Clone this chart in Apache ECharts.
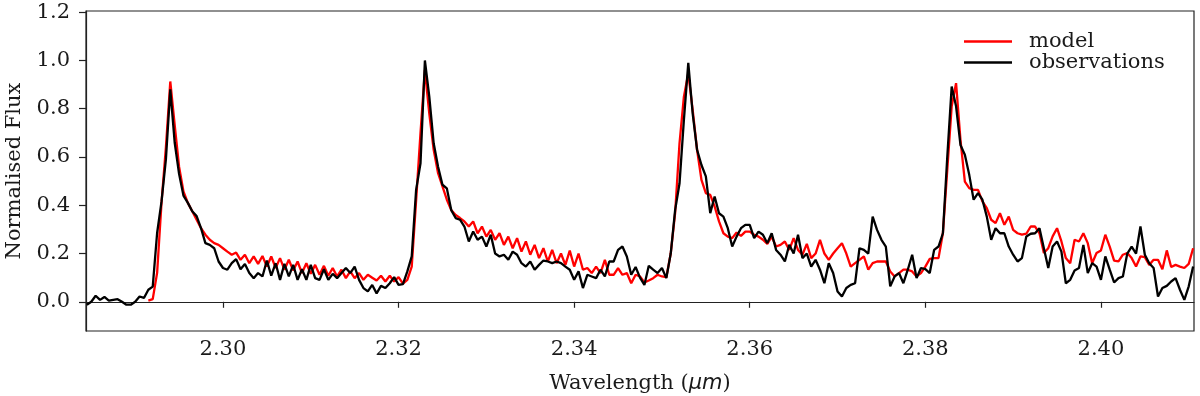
<!DOCTYPE html>
<html>
<head>
<meta charset="utf-8">
<script src="https://cdn.jsdelivr.net/npm/echarts@6/dist/echarts.min.js"></script>
<style>
html,body{margin:0;padding:0;background:#fff;}
#chart{width:1200px;height:396px;}
</style>
</head>
<body>
<div id="chart"></div>
<script>
// shared wavelength grid (micron)
const wavelength=[
2.2845,2.2850,2.2855,2.2860,2.2865,2.2870,2.2875,2.2880,2.2885,2.2890,
2.2895,2.2900,2.2905,2.2910,2.2915,2.2920,2.2925,2.2930,2.2935,2.2940,
2.2945,2.2950,2.2955,2.2960,2.2965,2.2970,2.2975,2.2980,2.2985,2.2990,
2.2995,2.3000,2.3005,2.3010,2.3015,2.3020,2.3025,2.3030,2.3035,2.3040,
2.3045,2.3050,2.3055,2.3060,2.3065,2.3070,2.3075,2.3080,2.3085,2.3090,
2.3095,2.3100,2.3105,2.3110,2.3115,2.3120,2.3125,2.3130,2.3135,2.3140,
2.3145,2.3150,2.3155,2.3160,2.3165,2.3170,2.3175,2.3180,2.3185,2.3190,
2.3195,2.3200,2.3205,2.3210,2.3215,2.3220,2.3225,2.3230,2.3235,2.3240,
2.3245,2.3250,2.3255,2.3260,2.3265,2.3270,2.3275,2.3280,2.3285,2.3290,
2.3295,2.3300,2.3305,2.3310,2.3315,2.3320,2.3325,2.3330,2.3335,2.3340,
2.3345,2.3350,2.3355,2.3360,2.3365,2.3370,2.3375,2.3380,2.3385,2.3390,
2.3395,2.3400,2.3405,2.3410,2.3415,2.3420,2.3425,2.3430,2.3435,2.3440,
2.3445,2.3450,2.3455,2.3460,2.3465,2.3470,2.3475,2.3480,2.3485,2.3490,
2.3495,2.3500,2.3505,2.3510,2.3515,2.3520,2.3525,2.3530,2.3535,2.3540,
2.3545,2.3550,2.3555,2.3560,2.3565,2.3570,2.3575,2.3580,2.3585,2.3590,
2.3595,2.3600,2.3605,2.3610,2.3615,2.3620,2.3625,2.3630,2.3635,2.3640,
2.3645,2.3650,2.3655,2.3660,2.3665,2.3670,2.3675,2.3680,2.3685,2.3690,
2.3695,2.3700,2.3705,2.3710,2.3715,2.3720,2.3725,2.3730,2.3735,2.3740,
2.3745,2.3750,2.3755,2.3760,2.3765,2.3770,2.3775,2.3780,2.3785,2.3790,
2.3795,2.3800,2.3805,2.3810,2.3815,2.3820,2.3825,2.3830,2.3835,2.3840,
2.3845,2.3850,2.3855,2.3860,2.3865,2.3870,2.3875,2.3880,2.3885,2.3890,
2.3895,2.3900,2.3905,2.3910,2.3915,2.3920,2.3925,2.3930,2.3935,2.3940,
2.3945,2.3950,2.3955,2.3960,2.3965,2.3970,2.3975,2.3980,2.3985,2.3990,
2.3995,2.4000,2.4005,2.4010,2.4015,2.4020,2.4025,2.4030,2.4035,2.4040,
2.4045,2.4050,2.4055,2.4060,2.4065,2.4070,2.4075,2.4080,2.4085,2.4090,
2.4095,2.4100,2.4105
];

// model flux (red), starts at 2.2915
const modelFlux=[
null,null,null,null,null,null,null,null,null,null,
null,null,null,null,0.005,0.011,0.12,0.41,0.64,0.913,
0.733,0.56,0.457,0.41,0.375,0.34,0.305,0.278,0.257,0.243,
0.236,0.222,0.208,0.195,0.204,0.174,0.195,0.16,0.188,0.157,
0.19,0.146,0.188,0.14,0.181,0.133,0.174,0.13,0.167,0.119,
0.16,0.116,0.153,0.112,0.149,0.108,0.14,0.105,0.133,0.098,
0.126,0.098,0.119,0.091,0.112,0.1,0.088,0.108,0.084,0.108,
0.084,0.102,0.075,0.091,0.146,0.42,0.7,0.96,0.78,0.63,
0.533,0.478,0.423,0.38,0.36,0.347,0.333,0.312,0.333,0.284,
0.312,0.27,0.298,0.257,0.284,0.236,0.27,0.222,0.264,0.208,
0.25,0.195,0.236,0.181,0.222,0.167,0.215,0.16,0.2,0.153,
0.212,0.146,0.2,0.133,0.14,0.119,0.146,0.119,0.174,0.112,
0.112,0.14,0.112,0.119,0.077,0.112,0.105,0.08,0.088,0.098,
0.112,0.105,0.102,0.2,0.367,0.657,0.85,0.947,0.795,0.63,
0.505,0.45,0.443,0.395,0.333,0.284,0.27,0.264,0.287,0.273,
0.291,0.291,0.278,0.27,0.257,0.24,0.27,0.229,0.236,0.25,
0.215,0.264,0.215,0.195,0.24,0.181,0.2,0.257,0.2,0.174,
0.2,0.222,0.243,0.2,0.146,0.16,0.174,0.188,0.133,0.16,
0.167,0.167,0.167,0.126,0.105,0.119,0.133,0.133,0.126,0.105,
0.119,0.146,0.178,0.181,0.181,0.284,0.547,0.81,0.906,0.671,
0.498,0.471,0.464,0.464,0.416,0.388,0.34,0.326,0.367,0.319,
0.353,0.298,0.284,0.278,0.282,0.312,0.312,0.284,0.202,0.222,
0.271,0.305,0.25,0.181,0.16,0.257,0.25,0.284,0.243,0.16,
0.202,0.213,0.278,0.229,0.171,0.167,0.195,0.202,0.181,0.146,
0.188,0.185,0.153,0.174,0.174,0.135,0.213,0.144,0.153,0.146,
0.14,0.157,0.222
];

// observed flux (black)
const obsFlux=[
-0.012,0.0,0.025,0.008,0.02,0.005,0.008,0.011,0.0,-0.012,
-0.012,0.0,0.022,0.016,0.05,0.063,0.285,0.415,0.59,0.88,
0.66,0.53,0.44,0.41,0.375,0.355,0.305,0.243,0.236,0.222,
0.167,0.14,0.133,0.16,0.177,0.135,0.157,0.119,0.098,0.119,
0.105,0.171,0.108,0.16,0.091,0.157,0.105,0.153,0.091,0.135,
0.091,0.153,0.098,0.091,0.135,0.091,0.116,0.098,0.119,0.14,
0.119,0.146,0.091,0.057,0.043,0.07,0.035,0.066,0.057,0.077,
0.102,0.07,0.073,0.126,0.188,0.464,0.574,1.0,0.85,0.657,
0.56,0.485,0.47,0.38,0.347,0.34,0.312,0.25,0.291,0.257,
0.27,0.229,0.278,0.2,0.188,0.195,0.174,0.208,0.195,0.16,
0.146,0.167,0.133,0.153,0.171,0.167,0.16,0.167,0.16,0.146,
0.133,0.091,0.126,0.057,0.112,0.105,0.098,0.133,0.105,0.167,
0.167,0.215,0.229,0.188,0.112,0.144,0.1,0.07,0.149,0.133,
0.119,0.14,0.098,0.2,0.38,0.49,0.754,0.99,0.78,0.63,
0.567,0.52,0.367,0.436,0.367,0.353,0.305,0.229,0.27,0.305,
0.319,0.319,0.264,0.291,0.278,0.243,0.284,0.215,0.195,0.167,
0.236,0.2,0.278,0.181,0.2,0.146,0.174,0.133,0.077,0.16,
0.119,0.043,0.022,0.057,0.07,0.077,0.222,0.215,0.2,0.353,
0.298,0.257,0.229,0.064,0.105,0.119,0.077,0.133,0.195,0.098,
0.14,0.135,0.119,0.215,0.229,0.284,0.602,0.892,0.81,0.65,
0.609,0.526,0.423,0.45,0.423,0.353,0.257,0.305,0.284,0.284,
0.229,0.195,0.167,0.181,0.271,0.282,0.284,0.305,0.222,0.14,
0.229,0.25,0.208,0.077,0.091,0.13,0.14,0.236,0.119,0.16,
0.146,0.091,0.188,0.133,0.08,0.098,0.105,0.2,0.229,0.2,
0.312,0.195,0.16,0.14,0.022,0.057,0.066,0.084,0.098,0.05,
0.008,0.064,0.146
];

const xTicks=[2.30,2.32,2.34,2.36,2.38,2.40];
const yTicks=[0.0,0.2,0.4,0.6,0.8,1.0,1.2];
const seriesNames=['model','observations'];

const FONT='DejaVu Serif';
const INK='#1a1a1a';

function pairs(ys){
    return wavelength.map((w,i)=>[w,ys[i]]).filter(p=>p[1]!==null);
}

const chart=echarts.init(document.getElementById('chart'),null,{renderer:'canvas'});
chart.setOption({
    animation:false,
    backgroundColor:'#fff',
    grid:{left:86,right:6,top:11,bottom:65,outerBoundsMode:'none',containLabel:false,
          show:true,borderColor:'#222',borderWidth:1.2,backgroundColor:'transparent'},
    legend:{
        orient:'vertical',left:959,top:26,itemGap:0,itemWidth:48,itemHeight:2.5,
        icon:'rect',data:seriesNames,
        textStyle:{fontFamily:FONT,fontSize:21,color:INK,lineHeight:21,padding:[0,0,0,12]}
    },
    xAxis:{
        type:'value',min:2.2844,max:2.4106,
        name:'Wavelength ({it|μm})',nameLocation:'middle',nameGap:42,
        nameTextStyle:{fontFamily:FONT,fontSize:21,color:INK,rich:{it:{fontFamily:'DejaVu Sans',fontStyle:'italic',fontSize:21,color:INK}}},
        axisLine:{show:true,lineStyle:{color:'#222',width:1.2}},
        axisTick:{show:true,length:6,customValues:xTicks,lineStyle:{color:'#222',width:1.2}},
        axisLabel:{customValues:xTicks,formatter:v=>v.toFixed(2),fontFamily:FONT,fontSize:21,color:INK,margin:8},
        splitLine:{show:false}
    },
    yAxis:{
        type:'value',min:-0.121,max:1.205,
        name:'Normalised Flux',nameLocation:'middle',nameGap:61,nameRotate:90,
        nameTextStyle:{fontFamily:FONT,fontSize:21,color:INK},
        axisLine:{show:true,lineStyle:{color:'#222',width:1.2}},
        axisTick:{show:true,length:7,customValues:yTicks,lineStyle:{color:'#222',width:1.2}},
        axisLabel:{customValues:yTicks,formatter:v=>v.toFixed(1),fontFamily:FONT,fontSize:21,color:INK,margin:16},
        splitLine:{show:false}
    },
    series:[
        {name:seriesNames[0],type:'line',data:pairs(modelFlux),showSymbol:false,symbol:'none',
         lineStyle:{color:'#ff0000',width:2.3},itemStyle:{color:'#ff0000'},z:2},
        {name:seriesNames[1],type:'line',data:pairs(obsFlux),showSymbol:false,symbol:'none',
         lineStyle:{color:'#000000',width:2.3},itemStyle:{color:'#000000'},z:3}
    ]
});
</script>
</body>
</html>
